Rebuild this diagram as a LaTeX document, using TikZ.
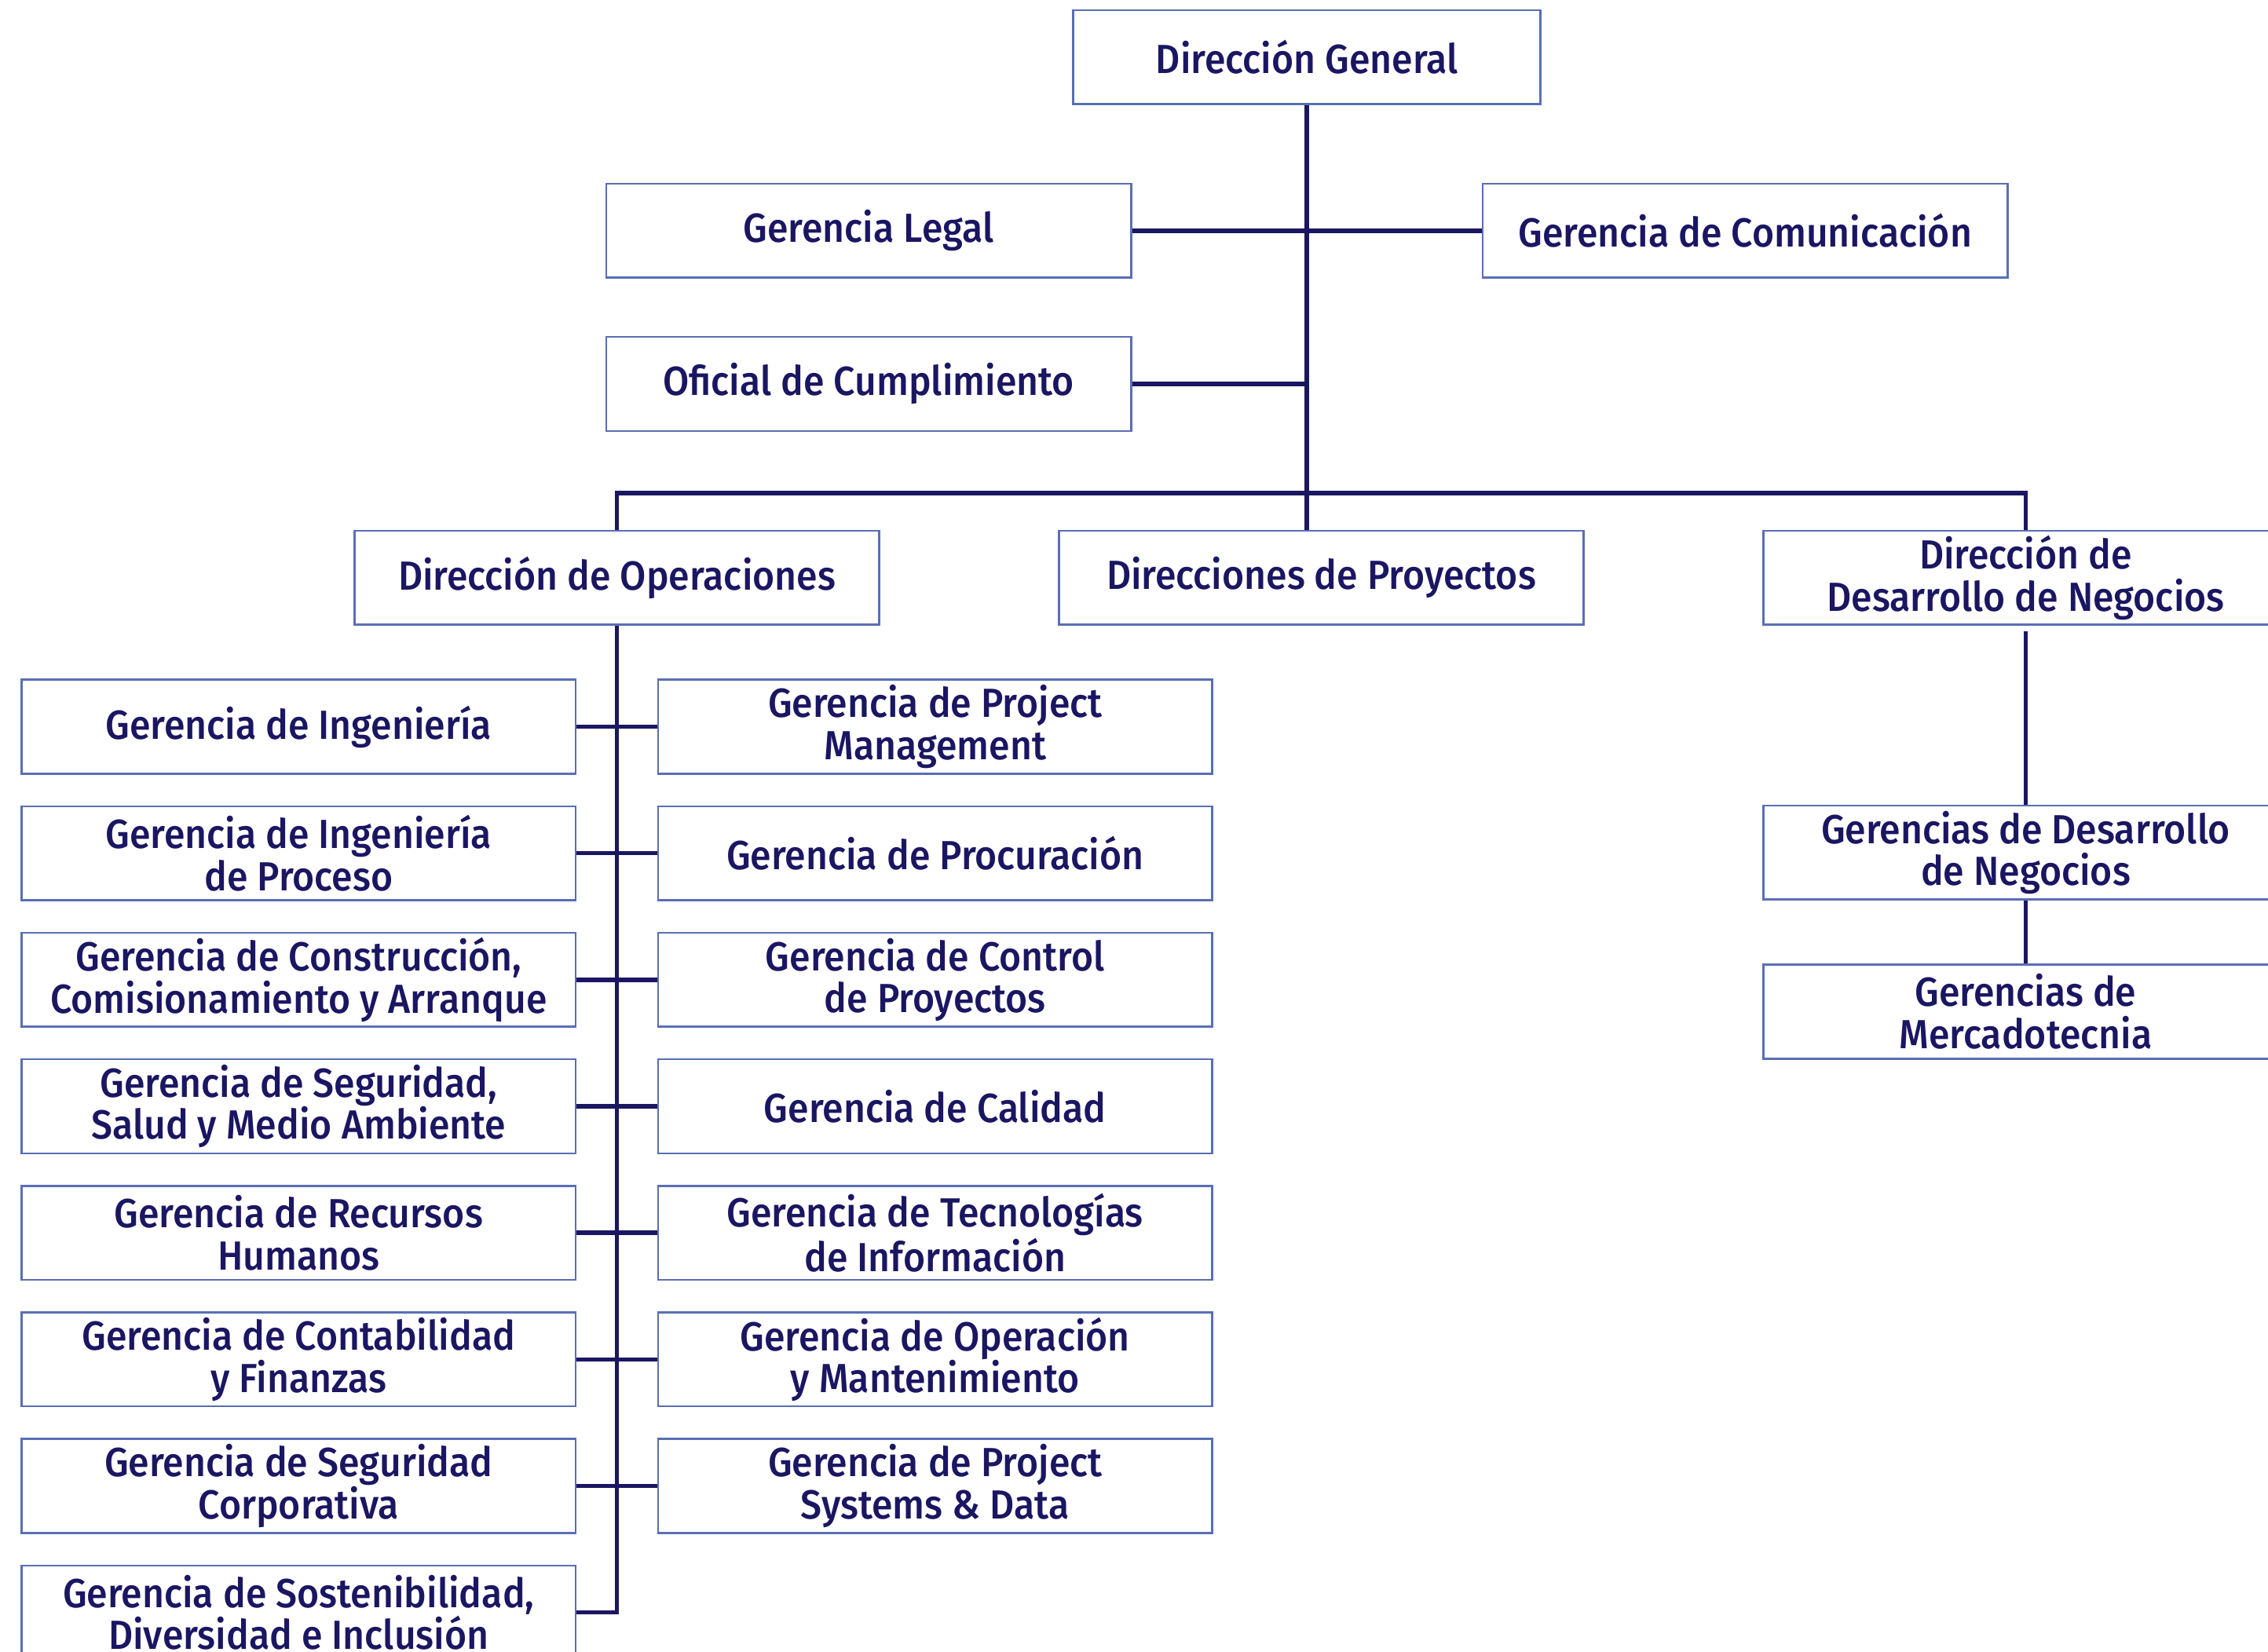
\documentclass[tikz,border=0pt]{standalone}
\usepackage{fontspec}
\setmainfont{Fira Sans}[UprightFont=* Medium,FakeStretch=0.93]
\definecolor{navy}{RGB}{27,22,98}
\definecolor{boxblue}{RGB}{90,110,182}

\begin{document}
\begin{tikzpicture}
      [x=0.02cm,y=-0.02cm,
       every node/.style={draw=boxblue,line width=0.8pt,text=navy,align=center,
         minimum width=7.26cm,minimum height=1.3cm,inner sep=0pt,
         font=\fontsize{16}{16.5}\selectfont},
       wide/.style={minimum width=7.66cm},
       link/.style={navy,line width=1.7pt}]
      \useasboundingbox (0,0) rectangle (1568,1142);

      \node[minimum width=6.46cm] (dg) at (903.5,39.5) {Dirección General};
      \node (legal) at (600.5,159.5) {Gerencia Legal};
      \node (comun) at (1206.5,159.5) {Gerencia de Comunicación};
      \node (ofic) at (600.5,265.5) {Oficial de Cumplimiento};
      \node (oper) at (426.5,399.5) {Dirección de Operaciones};
      \node (proy) at (913.5,399.5) {Direcciones de Proyectos};
      \node (desa) at (1400.5,399.5) {Dirección de\\Desarrollo de Negocios};
      \node (gdn) at (1400.5,589.5) {Gerencias de Desarrollo\\de Negocios};
      \node (merc) at (1400.5,699.5) {Gerencias de\\Mercadotecnia};

      \node[wide] (l1) at (206.5,502.5) {Gerencia de Ingeniería};
      \node[wide] (l2) at (206.5,590) {Gerencia de Ingeniería\\de Proceso};
      \node[wide] (l3) at (206.5,677.5) {Gerencia de Construcción,\\Comisionamiento y Arranque};
      \node[wide] (l4) at (206.5,765) {Gerencia de Seguridad,\\Salud y Medio Ambiente};
      \node[wide] (l5) at (206.5,852.5) {Gerencia de Recursos\\Humanos};
      \node[wide] (l6) at (206.5,940) {Gerencia de Contabilidad\\y Finanzas};
      \node[wide] (l7) at (206.5,1027.5) {Gerencia de Seguridad\\Corporativa};
      \node[wide] (l8) at (206.5,1115) {Gerencia de Sostenibilidad,\\Diversidad e Inclusión};

      \node[wide] (r1) at (646.5,502.5) {Gerencia de Project\\Management};
      \node[wide] (r2) at (646.5,590) {Gerencia de Procuración};
      \node[wide] (r3) at (646.5,677.5) {Gerencia de Control\\de Proyectos};
      \node[wide] (r4) at (646.5,765) {Gerencia de Calidad};
      \node[wide] (r5) at (646.5,852.5) {Gerencia de Tecnologías\\de Información};
      \node[wide] (r6) at (646.5,940) {Gerencia de Operación\\y Mantenimiento};
      \node[wide] (r7) at (646.5,1027.5) {Gerencia de Project\\Systems \& Data};

      \coordinate (bus) at (903.5,341);

      \draw[link] (dg) -- (dg |- proy.north);
      \draw[link] (legal) -- (comun);
      \draw[link] (ofic) -- (ofic -| dg);
      \draw[link] (oper) |- (bus) -| (desa);
      \draw[link] (oper) |- (l8);
      \foreach \i in {1,...,7}
      \draw[link] (l\i) -- (r\i);
      \draw[link,shorten <=2.3pt] (desa) -- (gdn);
      \draw[link] (gdn) -- (merc);
    \end{tikzpicture}
\end{document}
